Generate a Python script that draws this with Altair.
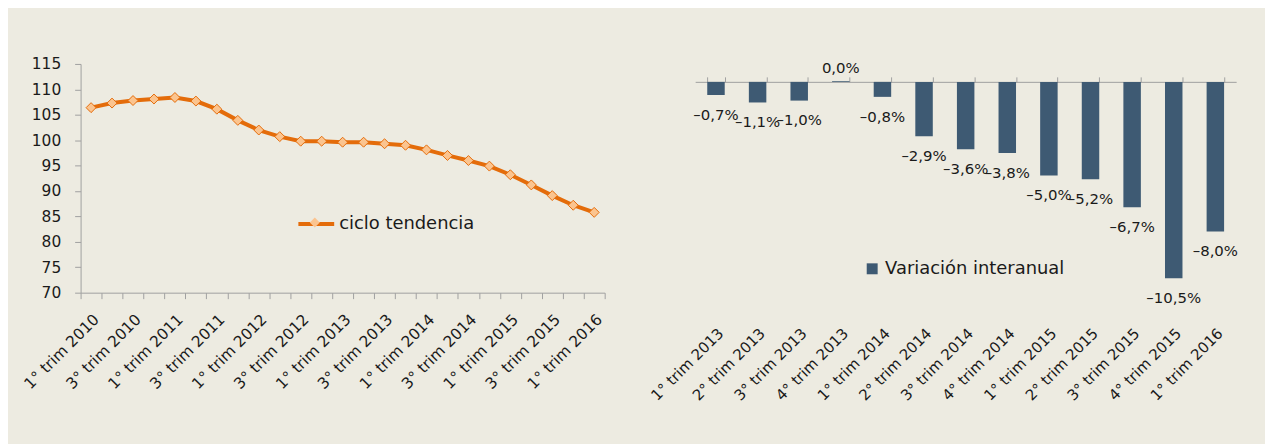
import altair as alt
import pandas as pd

# ---------------- data ----------------
left_periods = [
    "1° trim 2010", "2° trim 2010", "3° trim 2010", "4° trim 2010",
    "1° trim 2011", "2° trim 2011", "3° trim 2011", "4° trim 2011",
    "1° trim 2012", "2° trim 2012", "3° trim 2012", "4° trim 2012",
    "1° trim 2013", "2° trim 2013", "3° trim 2013", "4° trim 2013",
    "1° trim 2014", "2° trim 2014", "3° trim 2014", "4° trim 2014",
    "1° trim 2015", "2° trim 2015", "3° trim 2015", "4° trim 2015",
    "1° trim 2016",
]
ciclo_tendencia = [
    106.4, 107.3, 107.8, 108.1, 108.4, 107.7, 106.1, 103.9, 102.0, 100.7,
    99.8, 99.8, 99.6, 99.6, 99.3, 99.0, 98.1, 97.0, 96.0, 94.9,
    93.2, 91.2, 89.1, 87.2, 85.8,
]
left_ticks = [70, 75, 80, 85, 90, 95, 100, 105, 110, 115]
left_series = "ciclo tendencia"

right_periods = [
    "1° trim 2013", "2° trim 2013", "3° trim 2013", "4° trim 2013",
    "1° trim 2014", "2° trim 2014", "3° trim 2014", "4° trim 2014",
    "1° trim 2015", "2° trim 2015", "3° trim 2015", "4° trim 2015",
    "1° trim 2016",
]
variacion = [-0.7, -1.1, -1.0, 0.04, -0.8, -2.9, -3.6, -3.8, -5.0, -5.2, -6.7, -10.5, -8.0]
right_series = "Variación interanual"

# ---------------- style ----------------
FONT = "DejaVu Sans"
ORANGE = "#E46C0A"
LIGHT = "#FBC48F"
BAR = "#3E5A73"
GREY = "#A0A0A0"
INK = "#1A1A1A"
BG = "#EDEBE1"

dfl = pd.DataFrame({"periodo": left_periods, "valor": ciclo_tendencia,
                    "serie": left_series, "marca": "·"})
dfr = pd.DataFrame({"periodo": right_periods, "valor": variacion, "serie": right_series})

# ---------------- left chart ----------------
xl = alt.X(
    "periodo:N", sort=left_periods,
    scale=alt.Scale(type="band", paddingInner=0, paddingOuter=0),
    axis=alt.Axis(
        title=None, tickBand="extent", labelAngle=-45, labelAlign="right",
        labelBaseline="top", labelOverlap=False, labelPadding=13,
        labelExpr="(substring(datum.label,0,1)=='1' || substring(datum.label,0,1)=='3') ? datum.label : ''",
        domainColor=GREY, tickColor=GREY, tickSize=6, labelFontSize=15.5,
        labelColor=INK, labelFont=FONT,
    ),
)
yl = alt.Y(
    "valor:Q",
    scale=alt.Scale(domain=[70, 115], nice=False, zero=False),
    axis=alt.Axis(
        title=None, values=left_ticks, grid=False, domainColor=GREY,
        tickColor=GREY, tickSize=6, labelFontSize=15.5, labelColor=INK,
        labelFont=FONT, labelPadding=14,
    ),
)

line = alt.Chart(dfl).mark_line(strokeWidth=4).encode(
    x=xl, y=yl,
    stroke=alt.Stroke(
        "serie:N", scale=alt.Scale(range=[ORANGE]),
        legend=alt.Legend(
            title=None, orient="none", legendX=217, legendY=141,
            symbolType="stroke", symbolSize=1296, symbolStrokeWidth=4,
            labelFontSize=18, labelFont=FONT, labelColor=INK, labelOffset=3,
            labelLimit=300, padding=0,
        ),
    ),
)
points = alt.Chart(dfl).mark_point(
    filled=True, fill=LIGHT, stroke=ORANGE, strokeWidth=1, size=100, opacity=1
).encode(
    x=xl, y=yl,
    shape=alt.Shape(
        "marca:N", scale=alt.Scale(range=["diamond"]),
        legend=alt.Legend(
            title=None, orient="none", legendX=230, legendY=154,
            symbolType="diamond", symbolSize=100, symbolFillColor=LIGHT,
            symbolStrokeColor=ORANGE, symbolStrokeWidth=1, labelExpr="''",
            padding=0,
        ),
    ),
)
left = alt.layer(line, points).resolve_legend(
    stroke="independent", shape="independent"
).properties(width=527, height=230)

# ---------------- right chart ----------------
xr_scale = alt.Scale(type="band", paddingInner=0.58, paddingOuter=0.29)
yr = alt.Y("valor:Q", scale=alt.Scale(domain=[-11.27, 0.96], nice=False, zero=False), axis=None)

bars = alt.Chart(dfr).mark_bar().encode(
    x=alt.X(
        "periodo:N", sort=right_periods, scale=xr_scale,
        axis=alt.Axis(
            title=None, domain=False, ticks=False, labelAngle=-45,
            labelAlign="right", labelBaseline="top", labelOverlap=False,
            labelPadding=33, labelFontSize=15, labelColor=INK, labelFont=FONT,
        ),
    ),
    y=yr,
    color=alt.Color(
        "serie:N", scale=alt.Scale(range=[BAR]),
        legend=alt.Legend(
            title=None, orient="none", legendX=787, legendY=197,
            symbolType="square", symbolSize=121, symbolStrokeWidth=0,
            labelFontSize=18, labelFont=FONT, labelColor=INK, labelOffset=4,
            labelLimit=300, padding=0,
        ),
    ),
)

label_expr = "replace(replace(format(datum.valor, '.1f'), '.', ','), '\u2212', '\u2013') + '%'"
neg_labels = alt.Chart(dfr).transform_filter("datum.valor < 0").transform_calculate(
    lbl=label_expr
).mark_text(baseline="top", dy=13, fontSize=15, font=FONT, color=INK).encode(
    x=alt.X(
        "periodo:N", sort=right_periods, scale=xr_scale,
        axis=alt.Axis(
            title=None, orient="top", offset=-18, tickBand="extent",
            labels=False, domainColor=GREY, tickColor=GREY, tickSize=5,
        ),
    ),
    y=yr,
    text="lbl:N",
)
pos_labels = alt.Chart(dfr).transform_filter("datum.valor >= 0").transform_calculate(
    lbl=label_expr
).mark_text(baseline="bottom", dy=-5, fontSize=15, font=FONT, color=INK).encode(
    x=alt.X("periodo:N", sort=right_periods, scale=xr_scale, axis=None),
    y=yr,
    text="lbl:N",
)

right = alt.layer(bars, neg_labels, pos_labels).resolve_axis(x="independent").properties(
    width=544, height=230
)

chart = alt.hconcat(left, right, spacing=91, bounds="flush").properties(
    padding={"left": 13, "top": 48, "right": 27, "bottom": 55},
    background=BG,
).configure_view(stroke=None)

chart.save("out.html", embed_options={"renderer": "svg", "actions": False})
